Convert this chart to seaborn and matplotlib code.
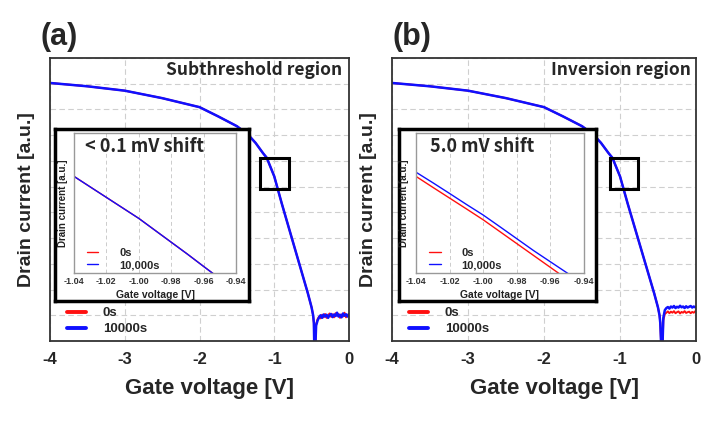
import numpy as np
import pandas as pd
import matplotlib
matplotlib.use("Agg")
import matplotlib.pyplot as plt
import seaborn as sns
from matplotlib.lines import Line2D
from matplotlib.patches import Rectangle
from matplotlib.ticker import LogLocator, MultipleLocator, NullFormatter, FixedLocator

# ---- data (log10 of drain current, a.u.) ----
v_on = [-4.0, -3.5, -3.0, -2.5, -2.0, -1.75, -1.5, -1.35, -1.25, -1.15, -1.1,
        -1.0, -0.9, -0.8, -0.7, -0.6, -0.55, -0.5, -0.48, -0.47]
log_id_on = [-1.97, -2.1, -2.27, -2.56, -2.91, -3.27, -3.65, -3.98, -4.3, -4.7, -4.88,
             -5.6, -6.65, -7.65, -8.65, -9.65, -10.15, -10.7, -11.0, -11.3]

v_tail_a = [-0.462, -0.455, -0.44, -0.42, -0.40, -0.38, -0.36, -0.34, -0.32, -0.30,
            -0.28, -0.26, -0.24, -0.22, -0.20, -0.18, -0.16, -0.14, -0.12, -0.10,
            -0.08, -0.06, -0.04, -0.02, 0.0]
log_tail_a_0s = [-12.6, -12.6, -11.35, -11.15, -11.05, -11.12, -10.98, -11.08, -10.95, -11.1,
                 -11.0, -10.93, -11.06, -10.96, -11.08, -10.92, -11.02, -10.95, -11.1, -10.97,
                 -11.05, -10.9, -11.08, -10.98, -11.0]
log_tail_a_10k = [-12.6, -12.6, -11.4, -11.2, -11.08, -11.0, -11.1, -10.97, -11.05, -10.98,
                  -11.1, -11.0, -10.95, -11.07, -10.97, -11.03, -10.9, -11.05, -10.98, -11.08,
                  -10.93, -11.02, -10.96, -11.05, -10.95]

v_tail_b = [-0.452, -0.445, -0.43, -0.41, -0.39, -0.37, -0.35, -0.33, -0.31, -0.29,
            -0.27, -0.25, -0.23, -0.21, -0.19, -0.17, -0.15, -0.13, -0.11, -0.09,
            -0.07, -0.05, -0.03, -0.01, 0.0]
log_tail_b_0s = [-12.6, -12.6, -11.2, -10.95, -10.9, -10.85, -10.92, -10.86, -10.9, -10.84,
                 -10.92, -10.88, -10.85, -10.93, -10.87, -10.9, -10.84, -10.91, -10.88, -10.86,
                 -10.92, -10.87, -10.9, -10.85, -10.8]
log_tail_b_10k = [-12.6, -12.6, -11.1, -10.8, -10.72, -10.68, -10.74, -10.66, -10.7, -10.64,
                  -10.72, -10.67, -10.7, -10.63, -10.69, -10.66, -10.72, -10.65, -10.7, -10.67,
                  -10.64, -10.7, -10.66, -10.69, -10.68]

# inset (zoomed window, linear a.u.)
v_inset = [-1.04, -1.03, -1.02, -1.01, -1.00, -0.99, -0.98, -0.97, -0.96, -0.95, -0.94]
inset_a_0s = [0.69, 0.615, 0.54, 0.465, 0.39, 0.305, 0.22, 0.135, 0.047, -0.04, -0.13]
inset_a_10k = [0.69, 0.615, 0.54, 0.465, 0.39, 0.305, 0.22, 0.135, 0.047, -0.04, -0.13]
inset_b_0s = [0.69, 0.612, 0.535, 0.458, 0.38, 0.295, 0.21, 0.125, 0.04, -0.045, -0.13]
inset_b_10k = [0.72, 0.645, 0.568, 0.49, 0.414, 0.33, 0.245, 0.16, 0.08, 0.0, -0.08]

x_ticks = [-4, -3, -2, -1, 0]
x_tick_labels = ["-4", "-3", "-2", "-1", "0"]
inset_ticks = [-1.04, -1.02, -1.00, -0.98, -0.96, -0.94]
inset_tick_labels = ["-1.04", "-1.02", "-1.00", "-0.98", "-0.96", "-0.94"]
series = ["0s", "10000s"]
inset_series = ["0s", "10,000s"]
colors = {"0s": "#ff1010", "10000s": "#1010ff"}

panel_tags = ["(a)", "(b)"]
region_titles = ["Subthreshold region", "Inversion region"]
shift_notes = ["< 0.1 mV shift", "5.0 mV shift"]

# ---- style ----
sns.set_style("white")
plt.rcParams["font.family"] = ["Liberation Sans", "DejaVu Sans"]
KR = ["Noto Sans CJK KR", "DejaVu Sans"]

W, H = 721, 421


def box(x0, y0, x1, y1):
    return [x0 / W, 1 - y1 / H, (x1 - x0) / W, (y1 - y0) / H]


fig = plt.figure(figsize=(7.21, 4.21), dpi=100)

layout = [
    dict(main=box(50, 58, 349, 341), frame=box(55, 129, 249, 301), inset=box(74, 133, 236, 273),
         tag_x=40, title_x=0.977, note_x=0.068, zoom=(0.703, 0.537, 0.097, 0.11),
         tail_v=v_tail_a, tails=[log_tail_a_0s, log_tail_a_10k], ins=[inset_a_0s, inset_a_10k]),
    dict(main=box(392, 58, 696, 341), frame=box(399, 129, 596, 301), inset=box(416, 133, 584, 273),
         tag_x=392, title_x=0.984, note_x=0.083, zoom=(0.717, 0.537, 0.091, 0.11),
         tail_v=v_tail_b, tails=[log_tail_b_0s, log_tail_b_10k], ins=[inset_b_0s, inset_b_10k]),
]

for i, p in enumerate(layout):
    ax = fig.add_axes(p["main"], zorder=1)
    ax.set_yscale("log")

    rows = []
    for name, tail in zip(series, p["tails"]):
        for v, lg in zip(v_on + p["tail_v"], log_id_on + tail):
            rows.append({"V": v, "I": 10 ** lg, "series": name})
    df = pd.DataFrame(rows)
    sns.lineplot(data=df[df.series == "0s"], x="V", y="I", color=colors["0s"], estimator=None,
                 sort=False, linewidth=1.4, ax=ax)
    sns.lineplot(data=df[df.series == "10000s"], x="V", y="I", color=colors["10000s"],
                 estimator=None, sort=False, linewidth=1.8, ax=ax)

    ax.set_xlim(-4, 0)
    ax.set_ylim(1e-12, 1e-1)
    ax.xaxis.set_major_locator(FixedLocator(x_ticks))
    ax.set_xticklabels(x_tick_labels, fontsize=12, fontweight="bold")
    ax.xaxis.set_minor_locator(MultipleLocator(0.2))
    ax.yaxis.set_major_locator(LogLocator(base=10, numticks=30))
    ax.yaxis.set_minor_locator(LogLocator(base=10, subs=np.arange(2, 10), numticks=200))
    ax.yaxis.set_major_formatter(NullFormatter())
    ax.yaxis.set_minor_formatter(NullFormatter())
    ax.tick_params(which="both", direction="in", top=False, right=False, color="#333333")
    ax.tick_params(which="major", length=4, width=1, pad=8)
    ax.tick_params(which="minor", length=2, width=0.7)
    ax.grid(True, which="major", ls=(0, (5, 3)), color="#cfcfcf", lw=0.8)
    for s in ax.spines.values():
        s.set_color("#333333")
        s.set_linewidth(1.3)

    ax.set_xlabel("Gate voltage [V]", fontsize=16, fontweight="bold")
    ax.xaxis.set_label_coords(0.533, -0.13)
    ax.set_ylabel("Drain current [a.u.]", fontsize=14, fontweight="bold")
    ax.yaxis.set_label_coords(-0.05, 0.5)

    ax.text(p["title_x"], 0.958, region_titles[i], transform=ax.transAxes, ha="right",
            va="center", fontsize=12.5, fontweight="bold", family=KR)
    ax.add_patch(Rectangle(p["zoom"][:2], p["zoom"][2], p["zoom"][3], transform=ax.transAxes,
                           fill=False, lw=2.2, ec="black", zorder=5))

    handles = [Line2D([], [], color=colors[s], lw=2.8) for s in series]
    ax.legend(handles, series, loc="lower left", bbox_to_anchor=(0.057, 0.02), frameon=False,
              prop=dict(weight="bold", size=9.5), handlelength=1.4, handletextpad=1.3,
              labelspacing=0.3, borderpad=0, borderaxespad=0)

    fig.text(p["tag_x"] / W, 1 - 37 / H, panel_tags[i], fontsize=22, fontweight="bold",
             ha="left", va="center")

    # thick black frame around inset
    fr = fig.add_axes(p["frame"], zorder=2)
    fr.set_xticks([])
    fr.set_yticks([])
    fr.set_facecolor("white")
    for s in fr.spines.values():
        s.set_color("black")
        s.set_linewidth(2.5)

    ai = fig.add_axes(p["inset"], zorder=3)
    ai.plot(v_inset, p["ins"][0], color=colors["0s"], lw=1.0)
    ai.plot(v_inset, p["ins"][1], color=colors["10000s"], lw=1.0)
    ai.set_xlim(-1.04, -0.94)
    ai.set_ylim(0, 1)
    ai.xaxis.set_major_locator(FixedLocator(inset_ticks))
    ai.set_xticklabels(inset_tick_labels, fontsize=6.5, fontweight="bold", color="#333333")
    ai.set_yticks([])
    ai.tick_params(axis="x", direction="in", length=2, pad=3, color="#888888")
    ai.grid(True, axis="x", ls=(0, (4, 3)), color="#cccccc", lw=0.7)
    for s in ai.spines.values():
        s.set_color("#999999")
        s.set_linewidth(1.0)
    ai.set_xlabel("Gate voltage [V]", fontsize=7.5, fontweight="bold", color="#222222")
    ai.xaxis.set_label_coords(0.5, -0.125)
    ai.set_ylabel("Drain current [a.u.]", fontsize=7, fontweight="bold", color="#222222")
    ai.yaxis.set_label_coords(-0.04, 0.5)
    ai.text(p["note_x"], 0.9, shift_notes[i], transform=ai.transAxes, ha="left", va="center",
            fontsize=13, fontweight="bold", family=KR)
    ih = [Line2D([], [], color=colors[s], lw=1.0) for s in series]
    ai.legend(ih, inset_series, loc="lower left", bbox_to_anchor=(0.08, 0.02), frameon=False,
              prop=dict(weight="bold", size=8), handlelength=1.0, handletextpad=1.9,
              labelspacing=0.17, borderpad=0, borderaxespad=0)

fig.savefig("out.png", dpi=100)
